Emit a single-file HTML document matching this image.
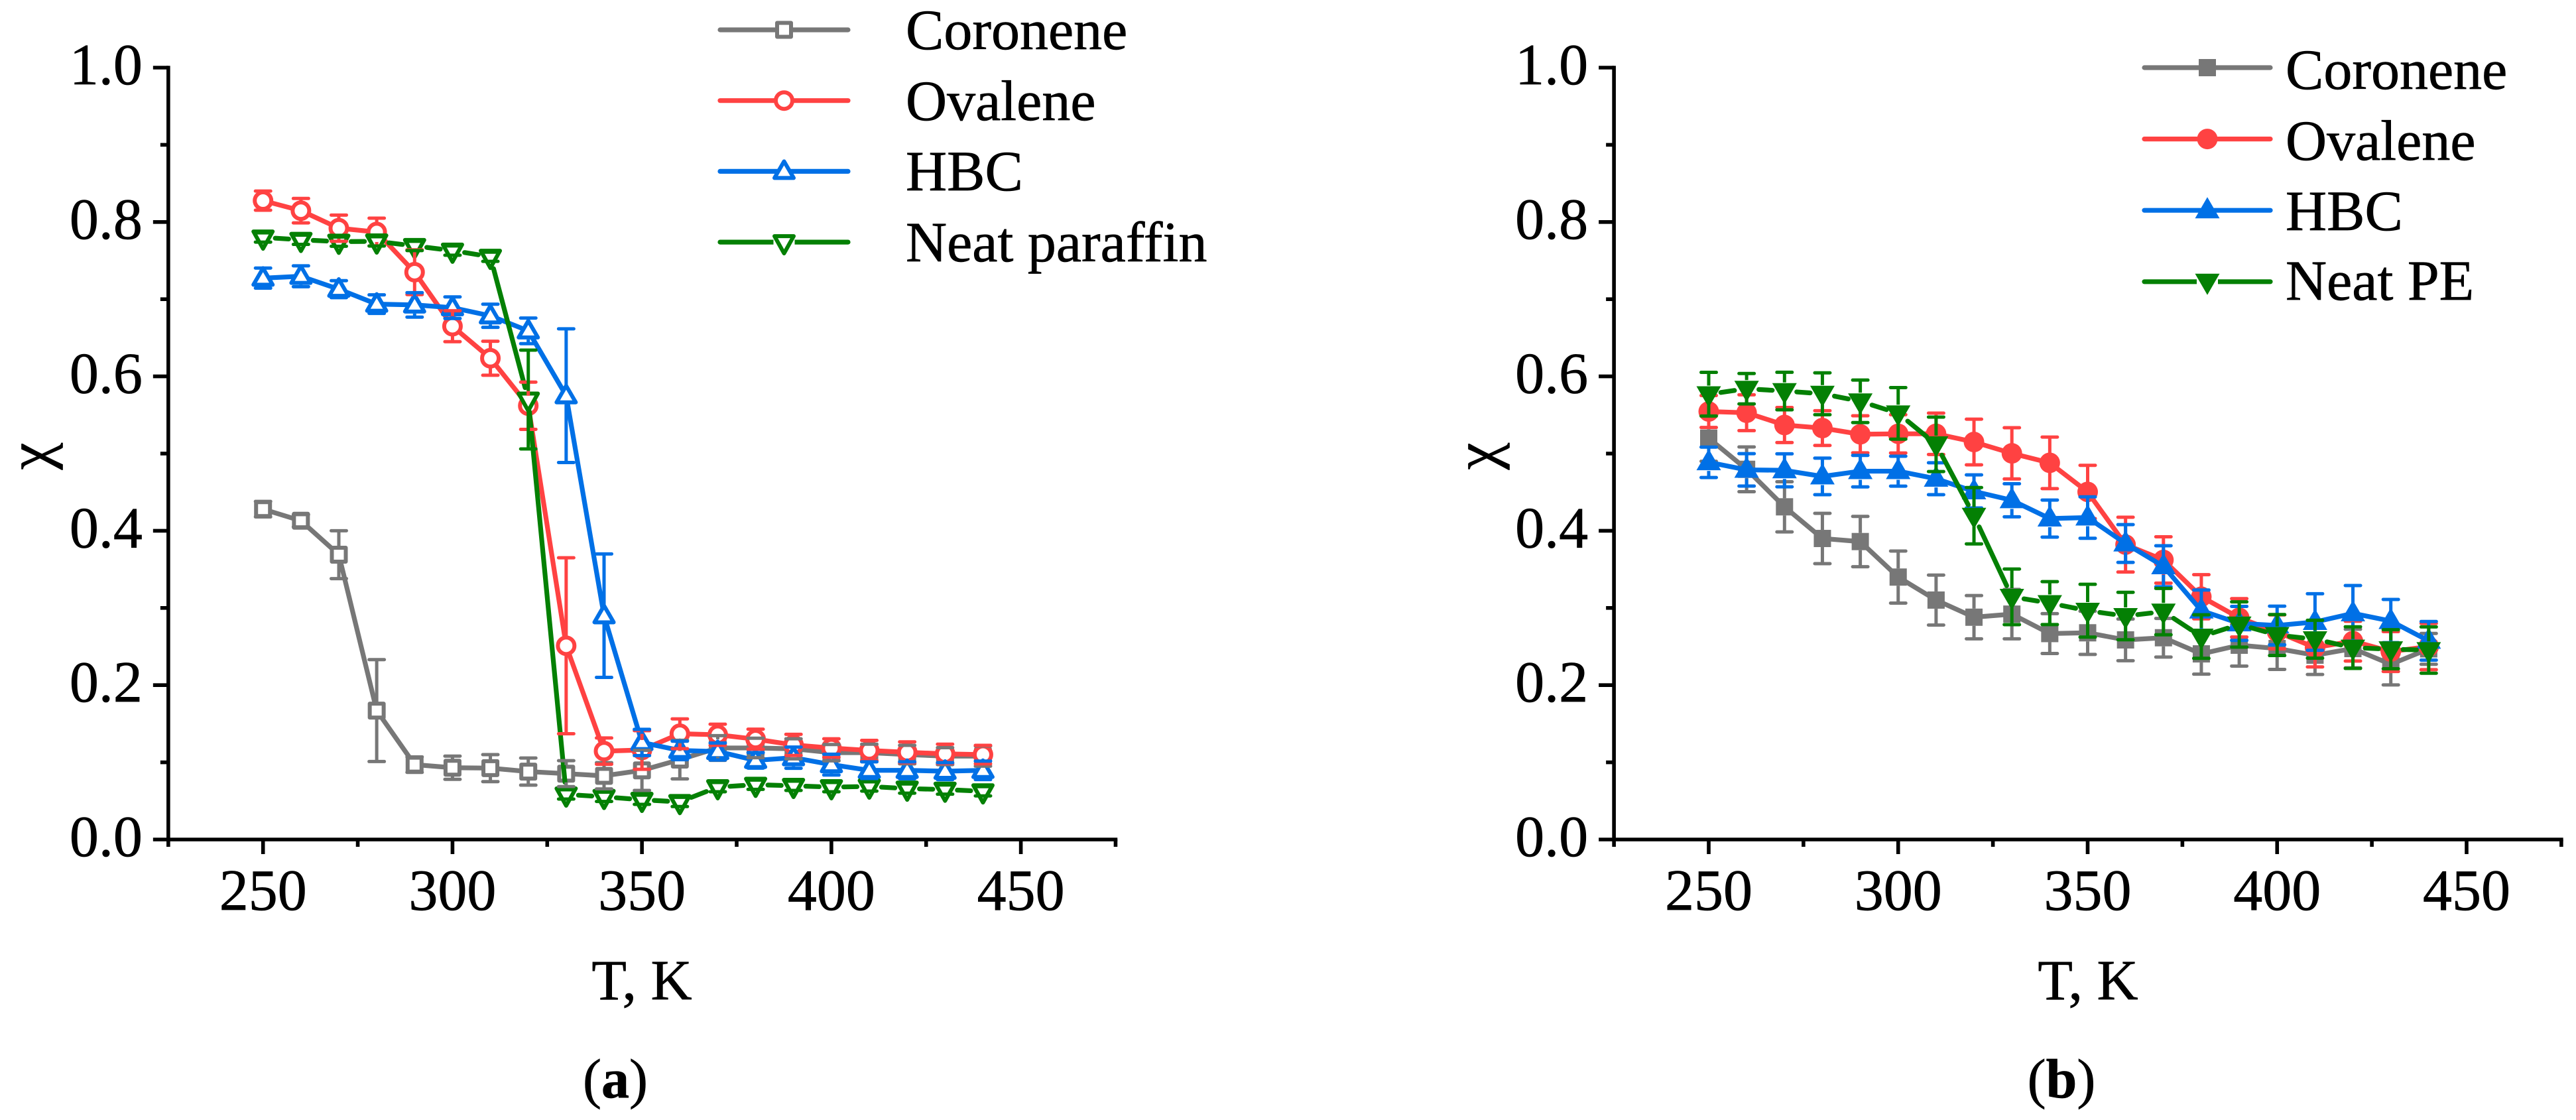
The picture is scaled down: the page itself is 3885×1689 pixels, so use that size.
<!DOCTYPE html>
<html lang="en">
<head>
<meta charset="utf-8">
<title>Crystallinity versus temperature</title>
<style>
html,body{margin:0;padding:0;background:#fff;width:3885px;height:1689px;overflow:hidden}
svg{display:block}
text{font-family:"Liberation Serif","DejaVu Serif",serif;fill:#000;stroke:#000;stroke-width:.7}
</style>
</head>
<body>
<svg id="figure" xmlns="http://www.w3.org/2000/svg" width="3885" height="1689" viewBox="0 0 3885 1689">
  <rect width="3885" height="1689" fill="#fff"/>
  <g id="panel-a"></g>
  <g id="panel-b"></g>

  <text transform="translate(75 688) rotate(-90)" font-size="92" text-anchor="middle">χ</text>
  <text x="968" y="1507" font-size="86" text-anchor="middle">T, K</text>
  <text x="928" y="1655" font-size="84" text-anchor="middle">(<tspan font-weight="bold">a</tspan>)</text>
  <text x="1366" y="74" font-size="86">Coronene</text>
  <text x="1366" y="181" font-size="86">Ovalene</text>
  <text x="1366" y="287" font-size="86">HBC</text>
  <text x="1366" y="394" font-size="86">Neat paraffin</text>

  <text transform="translate(2257 688) rotate(-90)" font-size="92" text-anchor="middle">χ</text>
  <text x="3149" y="1507" font-size="86" text-anchor="middle">T, K</text>
  <text x="3109" y="1655" font-size="84" text-anchor="middle">(<tspan font-weight="bold">b</tspan>)</text>
  <text x="3447" y="134" font-size="86">Coronene</text>
  <text x="3447" y="241" font-size="86">Ovalene</text>
  <text x="3447" y="347" font-size="86">HBC</text>
  <text x="3447" y="452" font-size="86">Neat PE</text>
</svg>

<script>
// ---- shared data ----
const temperatures = [250,260,270,280,290,300,310,320,330,340,350,360,370,380,390,400,410,420,430,440];
const xMajorTicks = [250,300,350,400,450];
const xMinorTicks = [225,275,325,375,425,475];
const yMajorTicks = ["0.0","0.2","0.4","0.6","0.8","1.0"];
const yMinorTicks = [0.1,0.3,0.5,0.7,0.9];
const seriesNames = ["coronene","ovalene","hbc","neat"];

// ---- panel (a) values ----
const aCoronene = [.428,.413,.369,.167,.097,.093,.0925,.088,.0853,.0825,.0896,.1035,.1186,.1186,.1175,.1125,.1125,.11,.108,.108];
const aOvalene  = [.8277,.8147,.792,.787,.735,.665,.6235,.562,.251,.1145,.116,.137,.1357,.13,.1226,.1185,.1154,.113,.111,.11];
const aHbc      = [.7273,.7297,.713,.6936,.6926,.689,.6785,.659,.575,.29,.1257,.1154,.114,.1025,.106,.097,.0896,.0896,.0885,.0896];
const aNeat     = [.78,.777,.7746,.7749,.769,.763,.755,.57,.0584,.0553,.0515,.0487,.0679,.071,.0696,.0679,.0687,.066,.0647,.0625];
const aCoroneneErr = [.01,.008,.031,.066,.01,.015,.0175,.0176,.0168,.017,.026,.025,.016,.0126,.013,.0106,.011,.012,.011,.013];
const aOvaleneErr  = [.0124,.0158,.017,.018,.029,.02,.022,.0306,.114,.017,.025,.0193,.0137,.0129,.0137,.012,.013,.0135,.0125,.012];
const aHbcErr      = [.013,.0135,.011,.012,.0158,.014,.015,.0166,.0866,.08,.017,.012,.011,.01,.0137,.0135,.011,.011,.011,.012];
const aNeatErr     = [.006,.006,.006,.006,.006,.006,.006,.064,.006,.006,.006,.006,.006,.006,.006,.006,.006,.006,.006,.006];

// ---- panel (b) values ----
const bCoronene = [.52,.4796,.431,.39,.386,.34,.3102,.288,.292,.2668,.2678,.2586,.2614,.2405,.2517,.2474,.2388,.2474,.227,.247];
const bOvalene  = [.5545,.5529,.537,.533,.525,.5256,.5256,.515,.5003,.488,.4503,.382,.3622,.3145,.2872,.269,.2486,.257,.2435,.25];
const bHbc      = [.4887,.4789,.4783,.4704,.4772,.4772,.4674,.451,.4395,.4158,.4171,.3835,.354,.2966,.28,.2773,.2818,.293,.283,.2574];
const bNeat     = [.5769,.584,.581,.5775,.5677,.5521,.512,.4195,.3144,.3063,.2964,.2895,.2953,.2629,.2786,.2649,.2595,.2486,.2465,.2454];
const bCoroneneErr = [.03,.029,.0325,.0326,.0326,.0337,.0324,.028,.032,.0258,.028,.027,.025,.0263,.027,.027,.025,.025,.0267,.02];
const bOvaleneErr  = [.0207,.0232,.0227,.0225,.024,.0248,.0268,.0296,.0332,.0334,.0345,.0355,.03,.0286,.0249,.022,.025,.0258,.0258,.03];
const bHbcErr      = [.0197,.021,.0214,.0237,.0204,.0194,.0207,.0214,.0214,.024,.0268,.0245,.0266,.0266,.022,.025,.0366,.036,.028,.025];
const bNeatErr     = [.0283,.0197,.0243,.0271,.0275,.0334,.0353,.0365,.036,.0278,.0342,.0307,.03,.0282,.0293,.0265,.0245,.027,.0253,.03];

// ---- styling ----
const NS = "http://www.w3.org/2000/svg";
const COLORS = {coronene:"#777777", ovalene:"#ff4242", hbc:"#0070e6", neat:"#048004"};
const SHAPES = {coronene:"square", ovalene:"circle", hbc:"up", neat:"down"};
const LINE_GAP = {coronene:0, ovalene:0, hbc:0, neat:18.5};
const STEM_GAP = {coronene:13, ovalene:15, hbc:13, neat:13};

function node(parent, tag, attrs) {
  const el = document.createElementNS(NS, tag);
  for (const k in attrs) el.setAttribute(k, attrs[k]);
  parent.appendChild(el);
  return el;
}

function drawMarker(parent, shape, cx, cy, color, filled, name) {
  let el;
  if (shape === "square") {
    const s = filled ? 26 : 21;
    el = node(parent, "rect", {x:cx - s/2, y:cy - s/2, width:s, height:s});
  } else if (shape === "circle") {
    el = node(parent, "circle", {cx:cx, cy:cy, r:filled ? 15.5 : 12.5});
  } else if (shape === "up") {
    const p = filled
      ? [[cx,cy-20],[cx+18.5,cy+12],[cx-18.5,cy+12]]
      : [[cx,cy-15],[cx+14.5,cy+10],[cx-14.5,cy+10]];
    el = node(parent, "polygon", {points:p.map(q => q.join(",")).join(" ")});
  } else {
    const p = filled
      ? [[cx,cy+20],[cx+18.5,cy-12],[cx-18.5,cy-12]]
      : [[cx,cy+17],[cx+14.5,cy-9],[cx-14.5,cy-9]];
    el = node(parent, "polygon", {points:p.map(q => q.join(",")).join(" ")});
  }
  el.setAttribute("fill", filled ? color : "#fff");
  el.setAttribute("stroke", filled ? "none" : color);
  el.setAttribute("stroke-width", filled ? 0 : 6);
  el.setAttribute("stroke-linejoin", "round");
  
  
}

function drawErrorBar(parent, sx, sy, t, v, e, color, gap, name) {
  const g = node(parent, "g", {stroke:color, "stroke-width":5, "stroke-linecap":"round"});
  
  
  const cy = sy(v), x = sx(t);
  [sy(v + e), sy(v - e)].forEach(function (yEnd) {
    const dir = yEnd < cy ? -1 : 1;
    if (Math.abs(yEnd - cy) > gap) {
      node(g, "line", {x1:x, x2:x, y1:cy + dir*gap, y2:yEnd, "stroke-linecap":"butt"});
    }
    node(g, "line", {x1:x - 11.5, x2:x + 11.5, y1:yEnd, y2:yEnd});
  });
}

function drawPanel(cfg) {
  const root = document.getElementById(cfg.id);
  const x0 = cfg.x250, pxPerK = cfg.pxPerK;
  const Y0 = 1266, Y1 = 102;
  const sx = t => x0 + (t - 250) * pxPerK;
  const sy = v => Y0 - v * (Y0 - Y1);
  const axisLeft = sx(225), axisRight = sx(475);

  // series
  const seriesLayers = {};
  seriesNames.forEach(function (key, i) {
    const g = node(root, "g", {});
    
    
    seriesLayers[key] = g;
  });
  const errLayer = node(root, "g", {});
  
  

  seriesNames.forEach(function (key, i) {
    const values = cfg.values[i], errs = cfg.errors[i], color = COLORS[key];
    const g = seriesLayers[key];
    const gap = LINE_GAP[key];
    if (!cfg.errorsOnTop) {
      temperatures.forEach(function (t, j) {
        drawErrorBar(g, sx, sy, t, values[j], errs[j], color, STEM_GAP[key], key + '-error-bar');
      });
    }
    for (let j = 0; j < temperatures.length - 1; j++) {
      const ax = sx(temperatures[j]), ay = sy(values[j]);
      const bx = sx(temperatures[j+1]), by = sy(values[j+1]);
      const len = Math.hypot(bx - ax, by - ay);
      if (len <= 2 * gap) continue;
      const ux = (bx - ax) / len, uy = (by - ay) / len;
      const seg = node(g, "line", {
        x1:ax + ux*gap, y1:ay + uy*gap, x2:bx - ux*gap, y2:by - uy*gap,
        stroke:color, "stroke-width":7.2, "stroke-linecap":"round"
      });
      
      
    }
    temperatures.forEach(function (t, j) {
      drawMarker(g, SHAPES[key], sx(t), sy(values[j]), color, cfg.filled, key + '-marker');
    });
    if (cfg.errorsOnTop) {
      temperatures.forEach(function (t, j) {
        drawErrorBar(errLayer, sx, sy, t, values[j], errs[j], color, STEM_GAP[key], key + '-error-bar');
      });
    }
  });

  // axes
  const axes = node(root, "g", {stroke:"#000", "stroke-width":5.6, "stroke-linecap":"butt"});
  
  
  const yAxis = node(axes, "line", {x1:axisLeft, x2:axisLeft, y1:Y1 - 2.8, y2:Y0 + 2.8});
  
  
  const xAxis = node(axes, "line", {x1:axisLeft - 2.8, x2:axisRight + 2.8, y1:Y0, y2:Y0});
  
  

  xMajorTicks.forEach(function (t) {
    const tick = node(axes, "line", {x1:sx(t), x2:sx(t), y1:Y0, y2:Y0 + 22});
    
    
    const label = node(root, "text", {x:sx(t), y:1372, "font-size":88, "text-anchor":"middle"});
    label.textContent = String(t);
    
    
  });
  xMinorTicks.forEach(function (t) {
    const tick = node(axes, "line", {x1:sx(t), x2:sx(t), y1:Y0, y2:Y0 + 11});
    
    
  });
  yMajorTicks.forEach(function (s) {
    const v = parseFloat(s);
    const tick = node(axes, "line", {x1:axisLeft - 23, x2:axisLeft, y1:sy(v), y2:sy(v)});
    
    
    const label = node(root, "text", {x:axisLeft - 39, y:sy(v) + 25, "font-size":88, "text-anchor":"end"});
    label.textContent = s;
    
    
  });
  yMinorTicks.forEach(function (v) {
    const tick = node(axes, "line", {x1:axisLeft - 12, x2:axisLeft, y1:sy(v), y2:sy(v)});
    
    
  });

  // legend samples
  seriesNames.forEach(function (key, i) {
    const ly = cfg.legendY + i * cfg.legendStep;
    const g = node(root, "g", {});
    
    
    node(g, "line", {x1:cfg.legendX1, x2:cfg.legendX2, y1:ly, y2:ly, stroke:COLORS[key], "stroke-width":7.2, "stroke-linecap":"round"});
    const mx = (cfg.legendX1 + cfg.legendX2) / 2;
    if (key === "neat") {
      node(g, "rect", {x:mx - 16, y:ly - 6, width:32, height:12, fill:"#fff"});
    }
    drawMarker(g, SHAPES[key], mx, ly, COLORS[key], cfg.filled, 'legend-marker-' + key);
  });
}

drawPanel({
  id:"panel-a", x250:396.7, pxPerK:5.7145, filled:false, errorsOnTop:true,
  values:[aCoronene,aOvalene,aHbc,aNeat],
  errors:[aCoroneneErr,aOvaleneErr,aHbcErr,aNeatErr],
  legendX1:1086, legendX2:1279, legendY:45, legendStep:106.7
});
drawPanel({
  id:"panel-b", x250:2577, pxPerK:5.715, filled:true, errorsOnTop:false,
  values:[bCoronene,bOvalene,bHbc,bNeat],
  errors:[bCoroneneErr,bOvaleneErr,bHbcErr,bNeatErr],
  legendX1:3234, legendX2:3424, legendY:102, legendStep:107.6
});
</script>
</body>
</html>
